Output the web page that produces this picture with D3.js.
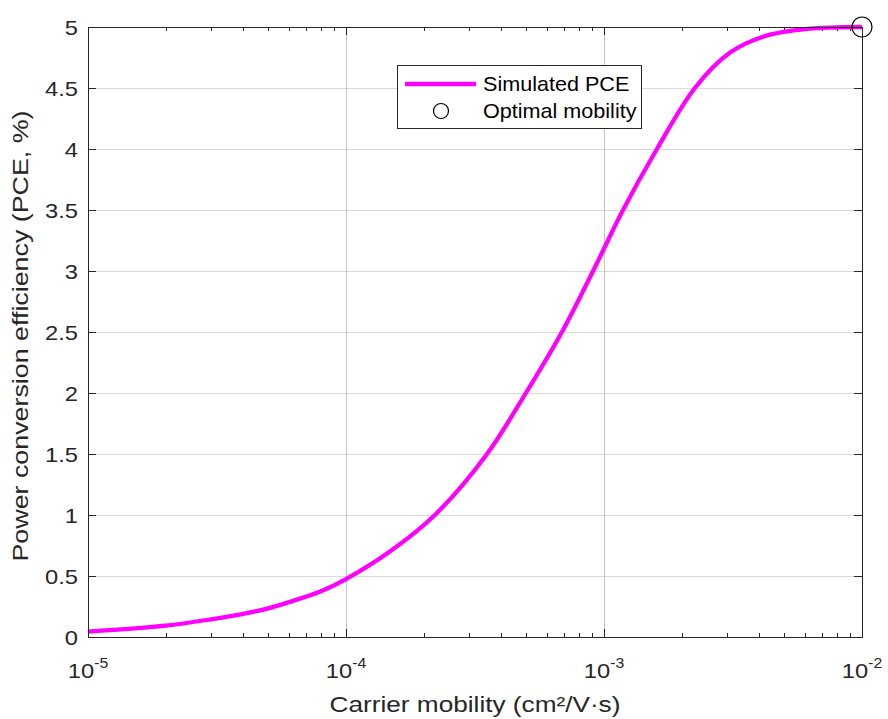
<!DOCTYPE html>
<html><head><meta charset="utf-8">
<script src="https://cdn.jsdelivr.net/npm/d3@7"></script>
<style>body{margin:0;background:#fff}svg{display:block;font-family:"Liberation Sans",Arial,sans-serif}</style>
</head><body>
<svg id="c" width="888" height="719"></svg>
<script>
const mobility = [1e-5, 2e-5, 3e-5, 4e-5, 5e-5, 6e-5, 8e-5, 1e-4, 1.456e-4, 2.21e-4, 3.52e-4, 4.98e-4, 6.87e-4, 9.07e-4, 1.185e-3, 1.604e-3, 2.25e-3, 3.08e-3, 4.13e-3, 5.6e-3, 7.5e-3, 1e-2];
const pce      = [0.044, 0.093, 0.145, 0.19, 0.235, 0.285, 0.375, 0.475, 0.69, 1.0, 1.5, 2.0, 2.5, 3.0, 3.5, 4.0, 4.5, 4.79, 4.92, 4.975, 4.995, 5.0];
const optimal = [{mu: 1e-2, pce: 5.0}];
const xTickExps = [-5, -4, -3, -2];
const yTicks = [0, 0.5, 1, 1.5, 2, 2.5, 3, 3.5, 4, 4.5, 5];
const seriesNames = ["Simulated PCE", "Optimal mobility"];
const xLabel = "Carrier mobility (cm\u00B2/V\u00B7s)";
const yLabel = "Power conversion efficiency (PCE, %)";

const L = 88, R = 862, T = 27, B = 637;
const svg = d3.select("#c");
const x = d3.scaleLog().domain([1e-5, 1e-2]).range([L, R]);
const y = d3.scaleLinear().domain([0, 5]).range([B, T]);
const axisCol = "#262626";

// grid
const g = svg.append("g");
g.selectAll(".hg").data(yTicks.slice(1, -1)).join("line")
  .attr("x1", L).attr("x2", R).attr("y1", d => Math.round(y(d)) + 0.5).attr("y2", d => Math.round(y(d)) + 0.5)
  .attr("stroke", "#d9d9d9").attr("stroke-width", 1);
g.selectAll(".vg").data(xTickExps.slice(1, -1)).join("line")
  .attr("x1", d => Math.round(x(Math.pow(10, d))) + 0.5).attr("x2", d => Math.round(x(Math.pow(10, d))) + 0.5)
  .attr("y1", T).attr("y2", B).attr("stroke", "#c4c4c4").attr("stroke-width", 1);

// minor ticks
const minors = [];
for (let e = -5; e < -2; e++) for (let m = 2; m <= 9; m++) minors.push(m * Math.pow(10, e));
const tk = svg.append("g").attr("stroke", axisCol).attr("stroke-width", 1);
minors.forEach(v => {
  const px = Math.round(x(v)) + 0.5;
  tk.append("line").attr("x1", px).attr("x2", px).attr("y1", B).attr("y2", B - 4);
  tk.append("line").attr("x1", px).attr("x2", px).attr("y1", T).attr("y2", T + 4);
});
xTickExps.forEach(e => {
  const px = Math.round(x(Math.pow(10, e))) + 0.5;
  tk.append("line").attr("x1", px).attr("x2", px).attr("y1", B).attr("y2", B - 8);
  tk.append("line").attr("x1", px).attr("x2", px).attr("y1", T).attr("y2", T + 8);
});
yTicks.forEach(v => {
  const py = Math.round(y(v)) + 0.5;
  tk.append("line").attr("x1", L).attr("x2", L + 8).attr("y1", py).attr("y2", py);
  tk.append("line").attr("x1", R).attr("x2", R - 8).attr("y1", py).attr("y2", py);
});

// curve
const line = d3.line().x((d, i) => x(mobility[i])).y((d, i) => y(pce[i])).curve(d3.curveCatmullRom.alpha(0.5));
svg.append("path").datum(pce).attr("d", line).attr("fill", "none")
  .attr("stroke", "#ff00ff").attr("stroke-width", 4.3).attr("stroke-linejoin", "round");

// box
svg.append("rect").attr("x", L + 0.5).attr("y", T + 0.5).attr("width", R - L).attr("height", B - T)
  .attr("fill", "none").attr("stroke", axisCol).attr("stroke-width", 1);

// optimal marker
svg.selectAll(".opt").data(optimal).join("circle")
  .attr("cx", d => x(d.mu)).attr("cy", d => y(d.pce)).attr("r", 10)
  .attr("fill", "none").attr("stroke", "#000").attr("stroke-width", 1.2);

// y tick labels
svg.append("g").selectAll("text").data(yTicks).join("text")
  .attr("transform", d => `translate(78,${y(d) + 7.5}) scale(1.13,1)`).attr("text-anchor", "end")
  .attr("font-size", 21).attr("fill", axisCol).text(d => d);

// x tick labels
const xl = svg.append("g");
xTickExps.forEach(e => {
  const t = xl.append("text").attr("transform", `translate(${x(Math.pow(10, e))},678) scale(1.13,1)`)
    .attr("text-anchor", "middle").attr("font-size", 21).attr("fill", axisCol);
  t.append("tspan").text("10");
  t.append("tspan").attr("dy", -10).attr("font-size", 14).text("-" + Math.abs(e));
});

// axis labels
svg.append("text").attr("transform", "translate(475,712) scale(1.19,1)").attr("text-anchor", "middle")
  .attr("font-size", 22).attr("fill", axisCol).text(xLabel);
svg.append("text").attr("transform", "translate(28,336) rotate(-90) scale(1.22,1)").attr("text-anchor", "middle")
  .attr("font-size", 22).attr("fill", axisCol).text(yLabel);

// legend
const lg = svg.append("g");
lg.append("rect").attr("x", 397.5).attr("y", 65.5).attr("width", 244).attr("height", 63)
  .attr("fill", "#fff").attr("stroke", axisCol).attr("stroke-width", 1);
lg.append("line").attr("x1", 405).attr("x2", 476).attr("y1", 84).attr("y2", 84)
  .attr("stroke", "#ff00ff").attr("stroke-width", 4.3);
lg.append("circle").attr("cx", 441).attr("cy", 111).attr("r", 7.5)
  .attr("fill", "none").attr("stroke", "#000").attr("stroke-width", 1.2);
lg.selectAll(".lt").data(seriesNames).join("text")
  .attr("transform", (d, i) => `translate(483,${91 + i * 27}) scale(1.08,1)`)
  .attr("font-size", 20).attr("fill", "#000").text(d => d);
</script>
</body></html>
